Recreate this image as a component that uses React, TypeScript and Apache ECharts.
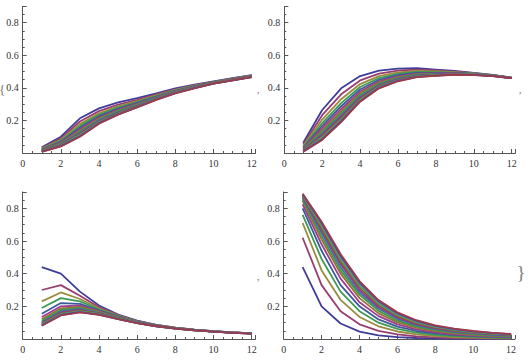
import React, { useEffect, useRef } from "react";
import * as echarts from "echarts";

const X_VALUES = [1, 2, 3, 4, 5, 6, 7, 8, 9, 10, 11, 12];
const X_TICK_LABELS = ["0", "2", "4", "6", "8", "10", "12"];
const Y_TICK_LABELS = ["0.2", "0.4", "0.6", "0.8"];

const SERIES_COLORS = [
  "#3F3D99", "#993D71", "#998B3D", "#3D9956", "#3D5A99",
  "#993D8F", "#996D3D", "#43993D", "#3D7999", "#843D99",
  "#994E3D", "#629A3D", "#3D9899", "#653D99", "#993D4B",
];

const PANEL1_LINES = [
  [0.035, 0.10, 0.213, 0.274, 0.31, 0.336, 0.366, 0.397, 0.42, 0.44, 0.46, 0.478],
  [0.031, 0.09, 0.193, 0.257, 0.297, 0.326, 0.359, 0.391, 0.416, 0.437, 0.457, 0.476],
  [0.027, 0.081, 0.177, 0.244, 0.286, 0.318, 0.353, 0.387, 0.413, 0.435, 0.455, 0.474],
  [0.024, 0.074, 0.165, 0.234, 0.278, 0.312, 0.349, 0.384, 0.41, 0.434, 0.454, 0.473],
  [0.021, 0.069, 0.155, 0.226, 0.271, 0.307, 0.345, 0.381, 0.408, 0.433, 0.453, 0.472],
  [0.019, 0.064, 0.146, 0.218, 0.265, 0.302, 0.342, 0.379, 0.406, 0.432, 0.452, 0.471],
  [0.017, 0.06, 0.138, 0.212, 0.26, 0.298, 0.339, 0.377, 0.405, 0.431, 0.451, 0.47],
  [0.015, 0.056, 0.131, 0.206, 0.255, 0.295, 0.337, 0.375, 0.404, 0.43, 0.45, 0.469],
  [0.013, 0.053, 0.125, 0.201, 0.251, 0.292, 0.335, 0.374, 0.403, 0.429, 0.449, 0.469],
  [0.012, 0.05, 0.119, 0.196, 0.247, 0.289, 0.333, 0.372, 0.402, 0.428, 0.448, 0.468],
  [0.011, 0.048, 0.115, 0.192, 0.244, 0.287, 0.331, 0.371, 0.401, 0.428, 0.448, 0.467],
  [0.01, 0.046, 0.111, 0.189, 0.241, 0.285, 0.33, 0.37, 0.4, 0.427, 0.447, 0.467],
  [0.009, 0.044, 0.107, 0.186, 0.239, 0.283, 0.329, 0.369, 0.399, 0.426, 0.446, 0.466],
  [0.008, 0.042, 0.103, 0.183, 0.237, 0.281, 0.327, 0.367, 0.398, 0.426, 0.446, 0.466],
  [0.007, 0.04, 0.10, 0.18, 0.235, 0.28, 0.326, 0.366, 0.397, 0.425, 0.445, 0.465],
];

const PANEL2_LINES = [
  [0.063, 0.264, 0.397, 0.472, 0.505, 0.518, 0.52, 0.512, 0.503, 0.492, 0.479, 0.462],
  [0.052, 0.232, 0.36, 0.445, 0.487, 0.505, 0.511, 0.506, 0.499, 0.49, 0.478, 0.462],
  [0.044, 0.205, 0.33, 0.423, 0.472, 0.494, 0.503, 0.5, 0.496, 0.488, 0.477, 0.462],
  [0.037, 0.184, 0.306, 0.405, 0.46, 0.485, 0.497, 0.496, 0.493, 0.487, 0.477, 0.461],
  [0.032, 0.167, 0.287, 0.39, 0.449, 0.477, 0.492, 0.492, 0.491, 0.486, 0.476, 0.461],
  [0.028, 0.152, 0.27, 0.377, 0.44, 0.47, 0.487, 0.489, 0.489, 0.485, 0.476, 0.461],
  [0.025, 0.139, 0.255, 0.366, 0.432, 0.465, 0.483, 0.486, 0.487, 0.484, 0.475, 0.461],
  [0.022, 0.128, 0.242, 0.356, 0.425, 0.46, 0.48, 0.484, 0.486, 0.483, 0.475, 0.46],
  [0.019, 0.118, 0.231, 0.347, 0.419, 0.456, 0.477, 0.482, 0.485, 0.482, 0.474, 0.46],
  [0.017, 0.11, 0.221, 0.339, 0.414, 0.452, 0.475, 0.48, 0.484, 0.482, 0.474, 0.46],
  [0.015, 0.103, 0.213, 0.333, 0.41, 0.449, 0.473, 0.479, 0.483, 0.481, 0.473, 0.46],
  [0.013, 0.096, 0.206, 0.327, 0.406, 0.446, 0.471, 0.477, 0.482, 0.48, 0.473, 0.46],
  [0.011, 0.09, 0.2, 0.322, 0.403, 0.444, 0.469, 0.476, 0.481, 0.48, 0.473, 0.459],
  [0.01, 0.085, 0.195, 0.318, 0.4, 0.442, 0.467, 0.475, 0.481, 0.479, 0.472, 0.459],
  [0.008, 0.08, 0.19, 0.315, 0.397, 0.44, 0.465, 0.474, 0.48, 0.478, 0.472, 0.459],
];

const PANEL3_LINES = [
  [0.44, 0.40, 0.29, 0.205, 0.15, 0.112, 0.087, 0.07, 0.057, 0.048, 0.041, 0.035],
  [0.30, 0.33, 0.265, 0.195, 0.147, 0.11, 0.086, 0.069, 0.057, 0.048, 0.041, 0.035],
  [0.23, 0.285, 0.245, 0.188, 0.143, 0.108, 0.085, 0.069, 0.056, 0.047, 0.04, 0.035],
  [0.19, 0.25, 0.23, 0.182, 0.14, 0.107, 0.084, 0.068, 0.056, 0.047, 0.04, 0.034],
  [0.155, 0.22, 0.215, 0.176, 0.137, 0.105, 0.083, 0.067, 0.055, 0.047, 0.04, 0.034],
  [0.135, 0.2, 0.205, 0.171, 0.134, 0.104, 0.082, 0.067, 0.055, 0.046, 0.04, 0.034],
  [0.12, 0.188, 0.197, 0.167, 0.132, 0.103, 0.081, 0.066, 0.055, 0.046, 0.039, 0.034],
  [0.11, 0.178, 0.19, 0.163, 0.13, 0.102, 0.081, 0.066, 0.054, 0.046, 0.039, 0.034],
  [0.102, 0.17, 0.184, 0.16, 0.128, 0.101, 0.08, 0.065, 0.054, 0.046, 0.039, 0.034],
  [0.096, 0.163, 0.179, 0.157, 0.127, 0.1, 0.08, 0.065, 0.054, 0.045, 0.039, 0.034],
  [0.092, 0.158, 0.175, 0.155, 0.125, 0.099, 0.079, 0.065, 0.054, 0.045, 0.039, 0.033],
  [0.088, 0.154, 0.171, 0.153, 0.124, 0.098, 0.079, 0.064, 0.053, 0.045, 0.039, 0.033],
  [0.085, 0.15, 0.168, 0.151, 0.123, 0.098, 0.078, 0.064, 0.053, 0.045, 0.038, 0.033],
  [0.083, 0.147, 0.165, 0.149, 0.122, 0.097, 0.078, 0.064, 0.053, 0.045, 0.038, 0.033],
  [0.081, 0.144, 0.163, 0.148, 0.121, 0.097, 0.078, 0.064, 0.053, 0.045, 0.038, 0.033],
];

const PANEL4_LINES = [
  [0.44, 0.20, 0.095, 0.045, 0.022, 0.011, 0.006, 0.003, 0.002, 0.001, 0.001, 0.0],
  [0.62, 0.33, 0.17, 0.09, 0.05, 0.028, 0.016, 0.01, 0.006, 0.004, 0.003, 0.002],
  [0.71, 0.42, 0.24, 0.135, 0.078, 0.046, 0.028, 0.018, 0.012, 0.008, 0.006, 0.004],
  [0.76, 0.49, 0.29, 0.17, 0.10, 0.062, 0.039, 0.026, 0.018, 0.013, 0.009, 0.007],
  [0.80, 0.54, 0.33, 0.20, 0.12, 0.076, 0.049, 0.034, 0.024, 0.017, 0.013, 0.010],
  [0.825, 0.58, 0.37, 0.225, 0.14, 0.09, 0.059, 0.041, 0.029, 0.021, 0.016, 0.013],
  [0.845, 0.61, 0.40, 0.25, 0.157, 0.102, 0.068, 0.048, 0.035, 0.026, 0.02, 0.016],
  [0.855, 0.63, 0.42, 0.27, 0.172, 0.112, 0.076, 0.054, 0.04, 0.03, 0.023, 0.018],
  [0.865, 0.65, 0.44, 0.285, 0.185, 0.122, 0.084, 0.06, 0.044, 0.034, 0.026, 0.021],
  [0.872, 0.665, 0.46, 0.30, 0.196, 0.131, 0.09, 0.065, 0.048, 0.037, 0.029, 0.023],
  [0.877, 0.678, 0.475, 0.315, 0.207, 0.139, 0.096, 0.07, 0.052, 0.04, 0.031, 0.025],
  [0.881, 0.69, 0.488, 0.327, 0.216, 0.146, 0.102, 0.074, 0.055, 0.042, 0.033, 0.027],
  [0.885, 0.70, 0.50, 0.338, 0.224, 0.152, 0.107, 0.078, 0.058, 0.045, 0.035, 0.028],
  [0.888, 0.71, 0.51, 0.347, 0.232, 0.158, 0.111, 0.081, 0.061, 0.047, 0.037, 0.03],
  [0.89, 0.718, 0.52, 0.355, 0.238, 0.163, 0.115, 0.084, 0.063, 0.049, 0.038, 0.031],
];

const PANELS = [PANEL1_LINES, PANEL2_LINES, PANEL3_LINES, PANEL4_LINES];

const FONT = "'Liberation Serif', 'DejaVu Serif', serif";
const AXIS_COLOR = "#555";
const LABEL_COLOR = "#333";

const GRIDS = [
  { left: 22.7, top: 6.3, width: 232.8, height: 146.7 },
  { left: 284.3, top: 6.3, width: 231.2, height: 146.7 },
  { left: 22.7, top: 192, width: 232.8, height: 147 },
  { left: 283.7, top: 192, width: 231.2, height: 147 },
];

function fmtX(v: number): string {
  const s = String(Math.round(v * 1000) / 1000);
  return X_TICK_LABELS.includes(s) ? s : "";
}
function fmtY(v: number): string {
  const s = (Math.round(v * 1000) / 1000).toFixed(1);
  return Y_TICK_LABELS.includes(s) && Math.abs(Number(s) - v) < 1e-6 ? s : "";
}

export default function App() {
  const ref = useRef<HTMLDivElement>(null);
  useEffect(() => {
    if (!ref.current) return;
    const chart = echarts.init(ref.current, undefined, { renderer: "svg" });
    const xAxis = GRIDS.map((_, i) => ({
      type: "value",
      gridIndex: i,
      min: 0,
      max: 12.2,
      interval: 2,
      axisLine: { show: true, onZero: false, lineStyle: { color: AXIS_COLOR, width: 1 } },
      axisTick: { show: true, inside: true, length: 4, lineStyle: { color: AXIS_COLOR, width: 1 } },
      minorTick: { show: true, splitNumber: 4, length: 2, lineStyle: { color: AXIS_COLOR, width: 1 } },
      splitLine: { show: false },
      minorSplitLine: { show: false },
      axisLabel: {
        formatter: fmtX,
        fontFamily: FONT,
        fontSize: 10,
        color: LABEL_COLOR,
        margin: 5,
      },
    }));
    const yAxis = GRIDS.map((_, i) => ({
      type: "value",
      gridIndex: i,
      min: 0,
      max: 0.9,
      interval: 0.2,
      axisLine: { show: true, onZero: false, lineStyle: { color: AXIS_COLOR, width: 1 } },
      axisTick: { show: true, inside: true, length: 4, lineStyle: { color: AXIS_COLOR, width: 1 } },
      minorTick: { show: true, splitNumber: 4, length: 2, lineStyle: { color: AXIS_COLOR, width: 1 } },
      splitLine: { show: false },
      minorSplitLine: { show: false },
      axisLabel: {
        formatter: fmtY,
        fontFamily: FONT,
        fontSize: 10,
        color: LABEL_COLOR,
        margin: 4,
      },
    }));
    const series: any[] = [];
    PANELS.forEach((lines, p) => {
      lines.forEach((vals, k) => {
        series.push({
          type: "line",
          xAxisIndex: p,
          yAxisIndex: p,
          data: X_VALUES.map((x, j) => [x, vals[j]]),
          symbol: "none",
          showSymbol: false,
          lineStyle: { color: SERIES_COLORS[k % SERIES_COLORS.length], width: 1.8 },
          itemStyle: { color: SERIES_COLORS[k % SERIES_COLORS.length] },
          silent: true,
        });
      });
    });
    const textStyle = (t: string, size: number) => ({
      text: t,
      fill: "#777",
      font: `${size}px ${FONT}`,
      textAlign: "center",
      textVerticalAlign: "middle",
    });
    chart.setOption({
      animation: false,
      grid: GRIDS.map((g) => ({ ...g, containLabel: false })),
      xAxis,
      yAxis,
      series,
      graphic: [
        { type: "text", x: -1, y: 89, style: { text: "{", fill: "#777", font: `13px ${FONT}`, textAlign: "left", textVerticalAlign: "middle" } },
        { type: "text", x: 258, y: 89, style: textStyle(",", 11) },
        { type: "text", x: 520, y: 89, style: textStyle(",", 11) },
        { type: "text", x: 258, y: 276, style: textStyle(",", 11) },
        { type: "text", x: 521, y: 273, style: textStyle("}", 18) },
      ],
    });
    return () => chart.dispose();
  }, []);
  return (
    <div
      ref={ref}
      style={{ position: "absolute", left: 0, top: 0, width: 530, height: 363, background: "#fff" }}
    />
  );
}
